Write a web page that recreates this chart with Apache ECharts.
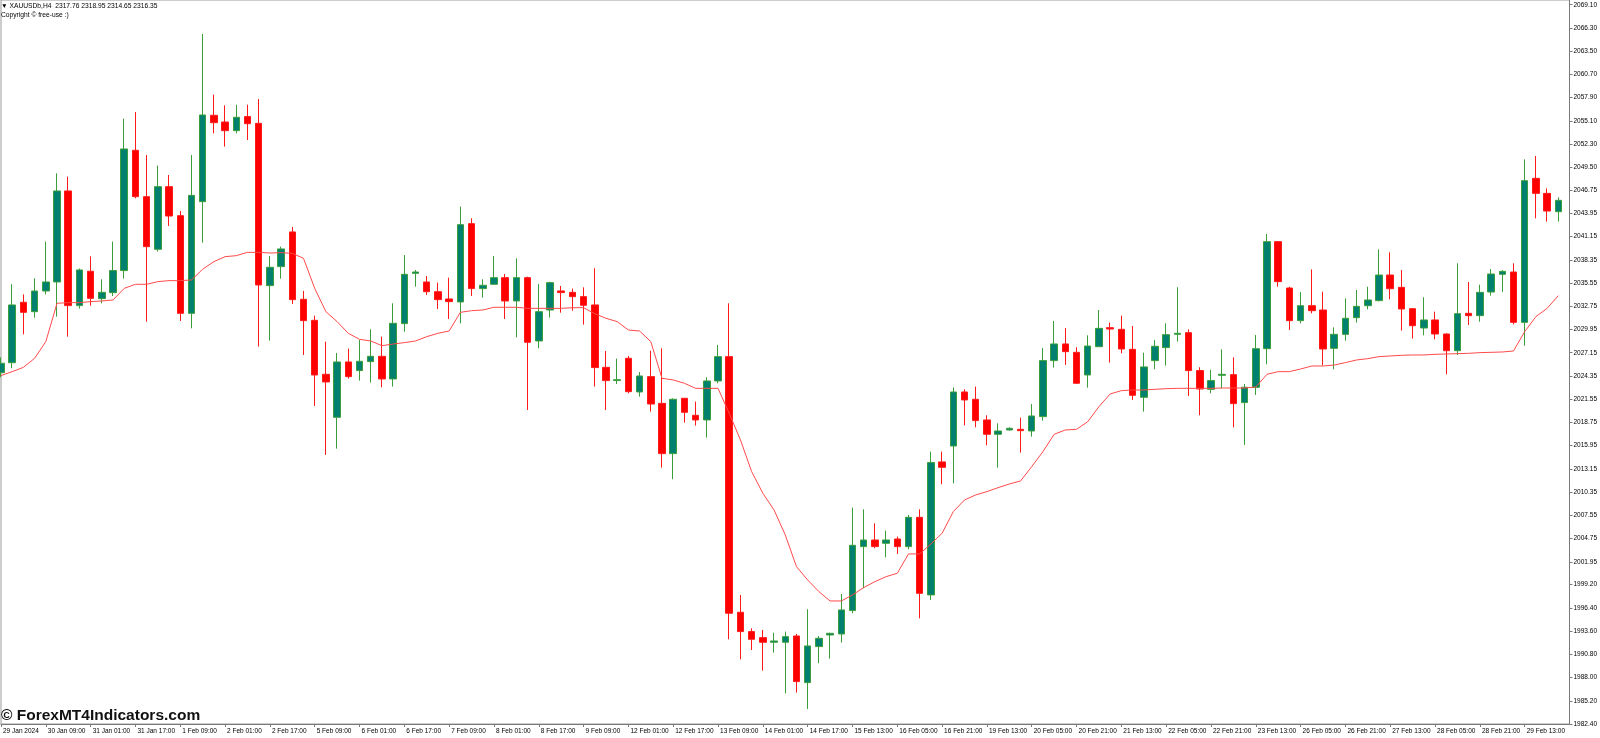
<!DOCTYPE html>
<html>
<head>
<meta charset="utf-8">
<script src="https://cdn.jsdelivr.net/npm/echarts@6/dist/echarts.min.js"></script>
<style>
html,body{margin:0;padding:0;background:#fff;}
#chart{width:1600px;height:738px;}
</style>
</head>
<body>
<div id="chart"></div>
<script>
const categories = [
'29 Jan 17:00','29 Jan 21:00','30 Jan 01:00','30 Jan 05:00','30 Jan 09:00','30 Jan 13:00','30 Jan 17:00','30 Jan 21:00',
'31 Jan 01:00','31 Jan 05:00','31 Jan 09:00','31 Jan 13:00','31 Jan 17:00','31 Jan 21:00',
'1 Feb 01:00','1 Feb 05:00','1 Feb 09:00','1 Feb 13:00','1 Feb 17:00','1 Feb 21:00',
'2 Feb 01:00','2 Feb 05:00','2 Feb 09:00','2 Feb 13:00','2 Feb 17:00','2 Feb 21:00',
'5 Feb 01:00','5 Feb 05:00','5 Feb 09:00','5 Feb 13:00','5 Feb 17:00','5 Feb 21:00',
'6 Feb 01:00','6 Feb 05:00','6 Feb 09:00','6 Feb 13:00','6 Feb 17:00','6 Feb 21:00',
'7 Feb 01:00','7 Feb 05:00','7 Feb 09:00','7 Feb 13:00','7 Feb 17:00','7 Feb 21:00',
'8 Feb 01:00','8 Feb 05:00','8 Feb 09:00','8 Feb 13:00','8 Feb 17:00','8 Feb 21:00',
'9 Feb 01:00','9 Feb 05:00','9 Feb 09:00','9 Feb 13:00','9 Feb 17:00','9 Feb 21:00',
'12 Feb 01:00','12 Feb 05:00','12 Feb 09:00','12 Feb 13:00','12 Feb 17:00','12 Feb 21:00',
'13 Feb 01:00','13 Feb 05:00','13 Feb 09:00','13 Feb 13:00','13 Feb 17:00','13 Feb 21:00',
'14 Feb 01:00','14 Feb 05:00','14 Feb 09:00','14 Feb 13:00','14 Feb 17:00','14 Feb 21:00',
'15 Feb 05:00','15 Feb 09:00','15 Feb 13:00','15 Feb 17:00','15 Feb 21:00',
'16 Feb 01:00','16 Feb 05:00','16 Feb 09:00','16 Feb 13:00','16 Feb 17:00','16 Feb 21:00',
'19 Feb 01:00','19 Feb 05:00','19 Feb 09:00','19 Feb 13:00','19 Feb 17:00','19 Feb 21:00',
'20 Feb 01:00','20 Feb 05:00','20 Feb 09:00','20 Feb 13:00','20 Feb 17:00','20 Feb 21:00',
'21 Feb 01:00','21 Feb 05:00','21 Feb 09:00','21 Feb 13:00','21 Feb 17:00','21 Feb 21:00',
'22 Feb 01:00','22 Feb 05:00','22 Feb 09:00','22 Feb 13:00','22 Feb 17:00','22 Feb 21:00',
'23 Feb 01:00','23 Feb 05:00','23 Feb 09:00','23 Feb 13:00','23 Feb 17:00','23 Feb 21:00',
'26 Feb 01:00','26 Feb 05:00','26 Feb 09:00','26 Feb 13:00','26 Feb 17:00','26 Feb 21:00',
'27 Feb 01:00','27 Feb 05:00','27 Feb 09:00','27 Feb 13:00','27 Feb 17:00','27 Feb 21:00',
'28 Feb 01:00','28 Feb 05:00','28 Feb 09:00','28 Feb 13:00','28 Feb 17:00','28 Feb 21:00',
'29 Feb 01:00','29 Feb 05:00','29 Feb 09:00','29 Feb 13:00','29 Feb 17:00','29 Feb 21:00',
'1 Mar 01:00'
];
const firstLabel = '29 Jan 2024';

const openP = [
2024.75,2025.95,2033.23,2032.10,2034.59,2035.68,2046.65,2032.83,2036.97,2033.67,
2034.39,2037.05,2051.55,2045.96,2039.62,2047.17,2043.67,2031.90,2045.36,2055.77,
2054.96,2053.92,2055.61,2054.80,2035.24,2037.53,2041.71,2033.59,2031.06,2024.55,
2019.37,2026.04,2025.00,2026.08,2026.72,2023.99,2030.66,2036.72,2035.68,2034.51,
2033.63,2033.27,2042.71,2034.88,2035.40,2036.20,2033.39,2036.20,2028.57,2032.30,
2034.60,2034.43,2033.91,2032.91,2025.39,2023.80,2026.48,2022.42,2024.27,2021.05,
2014.99,2021.66,2019.61,2019.05,2023.75,2026.68,1995.87,1993.54,1992.81,1992.25,
1992.25,1993.01,1987.39,1991.73,1993.13,1993.25,1996.07,2003.78,2004.58,2004.18,
2004.70,2003.78,2007.31,1997.96,2013.99,2015.91,2022.42,2021.54,2019.05,2017.32,
2017.84,2017.92,2017.72,2019.45,2026.20,2028.21,2027.20,2024.47,2027.88,2030.17,
2029.97,2027.56,2021.78,2026.20,2027.77,2029.37,2029.57,2025.00,2022.74,2024.43,
2024.51,2021.14,2022.98,2027.64,2040.54,2034.95,2031.02,2032.82,2032.30,2027.68,
2029.37,2031.38,2032.82,2033.43,2036.52,2035.03,2032.46,2030.13,2031.10,2029.41,
2027.40,2031.90,2031.62,2034.47,2036.60,2036.88,2030.81,2048.17,2046.36,2044.15
];
const closeP = [
2025.88,2032.91,2032.02,2034.59,2035.68,2046.65,2032.83,2037.13,2033.71,2034.43,
2037.05,2051.71,2045.96,2039.94,2047.17,2043.63,2031.90,2046.12,2055.81,2054.88,
2053.92,2055.53,2054.76,2035.32,2037.45,2039.66,2033.55,2031.02,2024.47,2023.63,
2026.04,2024.27,2026.12,2026.72,2023.99,2030.70,2036.60,2036.88,2034.51,2033.55,
2033.31,2042.59,2034.88,2035.28,2036.20,2033.39,2036.20,2028.41,2032.10,2035.60,
2034.40,2033.91,2032.87,2025.36,2023.79,2023.90,2022.46,2024.35,2020.97,2014.99,
2021.54,2019.97,2019.05,2023.75,2026.68,1995.75,1993.54,1992.61,1992.25,1992.41,
1992.93,1987.51,1991.81,1992.73,1993.33,1996.15,2003.94,2004.58,2003.78,2004.58,
2003.78,2007.31,1998.15,2013.91,2013.34,2022.42,2021.46,2018.97,2017.32,2017.72,
2018.04,2017.76,2019.53,2026.20,2028.21,2027.28,2023.47,2027.96,2030.09,2030.01,
2027.60,2022.02,2025.44,2027.93,2029.33,2029.49,2025.00,2022.78,2023.79,2024.55,
2021.02,2022.99,2027.64,2040.54,2035.72,2031.02,2032.82,2032.22,2027.60,2029.37,
2031.30,2032.74,2033.51,2036.52,2034.87,2032.42,2030.41,2031.10,2029.41,2027.40,
2031.86,2031.62,2034.43,2036.64,2036.96,2030.81,2047.89,2046.36,2044.23,2045.52
];
const lowP = [
2024.20,2025.28,2029.37,2031.38,2034.19,2031.50,2029.09,2032.47,2032.83,2033.11,
2033.99,2036.08,2045.76,2030.90,2039.34,2042.43,2030.98,2030.09,2040.42,2053.60,
2051.99,2053.60,2052.79,2027.89,2028.61,2036.08,2033.03,2026.88,2020.74,2014.83,
2015.59,2024.03,2023.79,2023.55,2022.99,2023.07,2029.69,2035.12,2034.11,2032.42,
2031.22,2030.70,2033.99,2033.79,2035.32,2031.22,2029.01,2020.25,2027.69,2031.38,
2031.98,2032.22,2030.54,2023.07,2020.25,2023.38,2022.26,2021.86,2020.05,2013.30,
2011.90,2018.72,2018.36,2016.92,2023.47,1992.61,1990.20,1991.32,1988.83,1991.00,
1986.10,1986.18,1984.21,1989.72,1990.28,1992.21,1995.75,1998.76,2003.58,2002.49,
2002.90,2003.46,1995.14,1997.35,2011.30,2011.41,2018.40,2018.16,2016.00,2013.30,
2017.76,2015.11,2017.04,2018.97,2025.36,2025.68,2023.40,2022.94,2027.85,2025.96,
2027.08,2021.46,2020.05,2025.16,2025.60,2028.49,2021.94,2019.61,2022.26,2022.86,
2018.16,2016.03,2022.06,2025.75,2035.11,2029.89,2030.69,2031.90,2025.63,2025.15,
2028.60,2030.78,2032.38,2033.35,2033.59,2029.81,2028.85,2029.25,2028.77,2024.55,
2026.88,2030.49,2030.89,2034.03,2034.47,2030.57,2028.00,2043.35,2042.95,2042.95
];
const highP = [
2026.60,2035.40,2034.19,2036.12,2040.54,2048.78,2048.37,2037.30,2038.77,2036.00,
2040.54,2055.36,2056.17,2050.98,2049.70,2048.57,2044.24,2050.98,2065.57,2058.26,
2056.97,2057.05,2057.05,2057.73,2038.81,2039.94,2042.31,2034.60,2031.62,2028.49,
2027.12,2027.65,2028.69,2029.97,2029.09,2033.11,2038.93,2037.13,2036.40,2035.60,
2036.20,2044.76,2043.35,2036.00,2038.81,2036.64,2038.53,2036.32,2035.44,2035.70,
2035.20,2034.88,2035.03,2037.33,2027.36,2026.44,2026.76,2024.83,2027.40,2027.68,
2021.66,2021.70,2021.26,2024.19,2028.09,2033.11,1997.95,1993.94,1993.74,1993.41,
1993.54,1993.25,1996.23,1993.01,1993.41,1998.07,2008.48,2008.28,2006.59,2005.71,
2004.99,2007.60,2008.28,2015.23,2015.23,2022.98,2022.74,2023.07,2019.61,2018.64,
2018.16,2019.33,2020.98,2027.72,2030.98,2030.14,2027.81,2029.25,2032.30,2030.78,
2031.62,2030.38,2027.16,2028.69,2030.70,2035.04,2029.97,2025.40,2025.08,2027.56,
2026.60,2023.39,2029.29,2041.46,2040.60,2035.11,2034.47,2037.20,2034.51,2030.21,
2033.71,2034.71,2035.11,2039.61,2039.25,2037.12,2032.50,2033.83,2032.10,2029.49,
2037.93,2035.68,2035.35,2037.24,2037.12,2037.93,2050.46,2050.86,2046.96,2045.88
];
const maValues = [
2024.40,2024.87,2025.39,2026.48,2028.49,2033.11,2033.19,2033.19,2033.31,2033.39,
2033.51,2034.91,2035.40,2035.40,2035.72,2035.84,2035.84,2035.92,2037.21,2038.13,
2038.73,2038.85,2039.25,2039.25,2039.17,2039.21,2039.13,2038.53,2034.91,2032.10,
2030.90,2029.49,2028.77,2028.57,2028.00,2028.20,2028.37,2028.57,2029.09,2029.49,
2029.77,2032.02,2032.22,2032.30,2032.63,2032.63,2032.63,2032.50,2032.50,2032.50,
2032.50,2032.58,2032.58,2031.86,2031.30,2030.90,2029.89,2029.77,2028.49,2024.07,
2023.87,2023.47,2022.86,2022.86,2022.86,2019.85,2016.64,2012.82,2010.21,2008.20,
2005.19,2001.37,1999.76,1998.36,1997.23,1997.23,1997.95,1998.84,1999.56,2000.16,
2000.57,2002.90,2002.90,2004.10,2005.39,2008.00,2009.40,2010.01,2010.41,2010.89,
2011.33,2011.69,2013.42,2015.23,2017.32,2017.84,2017.92,2018.84,2020.65,2022.18,
2022.58,2022.66,2022.66,2022.74,2022.82,2022.86,2022.86,2022.86,2022.86,2022.90,
2022.90,2022.90,2023.02,2024.55,2024.87,2024.87,2025.19,2025.55,2025.55,2025.67,
2025.96,2026.28,2026.44,2026.68,2026.76,2026.84,2026.88,2026.88,2026.96,2027.00,
2027.04,2027.08,2027.16,2027.20,2027.24,2027.36,2029.69,2031.50,2032.50,2034.03
];
const yTickLabels = [
'1982.40','1985.20','1988.00','1990.80','1993.60','1996.40','1999.20','2001.95',
'2004.75','2007.55','2010.35','2013.15','2015.95','2018.75','2021.55','2024.35',
'2027.15','2029.95','2032.75','2035.55','2038.35','2041.15','2043.95','2046.75',
'2049.50','2052.30','2055.10','2057.90','2060.70','2063.50','2066.30','2069.10'
];
const titleText = '\u25BC XAUUSDb,H4  2317.76 2318.95 2314.65 2316.35';
const subText = 'Copyright \u00A9 free-use :)';
const watermark = '\u00A9 ForexMT4Indicators.com';

const yTickValues = yTickLabels.map(Number);
const candleData = openP.map((o, i) => [o, closeP[i], lowP[i], highP[i]]);
const showLabel = (index) => index % 4 === 0 && index <= 136;
const FONT = '"Liberation Sans", Arial, sans-serif';

const chart = echarts.init(document.getElementById('chart'), null, {renderer: 'canvas'});
chart.setOption({
  animation: false,
  backgroundColor: '#ffffff',
  title: {
    text: titleText,
    subtext: subText,
    left: 1,
    top: 3,
    itemGap: 2,
    padding: 0,
    textStyle: {fontSize: 6.7, fontWeight: 'normal', color: '#000', fontFamily: FONT},
    subtextStyle: {fontSize: 6.7, color: '#000', fontFamily: FONT}
  },
  graphic: [{
    type: 'text',
    left: 1,
    top: 708,
    z: 100,
    style: {text: watermark, font: 'bold 15.5px "Liberation Sans", Arial, sans-serif', fill: '#111'}
  }],
  grid: {
    left: -1.95,
    right: 28,
    top: 0,
    bottom: 14,
    show: true,
    borderColor: '#9a9a9a',
    borderWidth: 1,
    backgroundColor: '#fff'
  },
  xAxis: {
    type: 'category',
    data: categories.concat(['']),
    boundaryGap: false,
    axisLine: {lineStyle: {color: '#7a7a7a', width: 1}},
    axisTick: {show: true, interval: showLabel, length: 3, lineStyle: {color: '#7a7a7a'}},
    axisLabel: {
      interval: showLabel,
      formatter: (v, i) => (i === 0 ? firstLabel : v),
      align: 'left',
      margin: 4,
      padding: [0, 0, 0, 2],
      fontSize: 6.5,
      color: '#000',
      fontFamily: FONT
    },
    splitLine: {show: false}
  },
  yAxis: {
    type: 'value',
    position: 'right',
    min: 1982.40,
    max: 2069.667,
    axisLine: {show: true, lineStyle: {color: '#7a7a7a', width: 1}},
    axisTick: {show: true, length: 3, customValues: yTickValues, lineStyle: {color: '#7a7a7a'}},
    axisLabel: {
      customValues: yTickValues,
      formatter: (v) => Number(v).toFixed(2),
      margin: 4,
      fontSize: 6.5,
      color: '#000',
      fontFamily: FONT
    },
    splitLine: {show: false}
  },
  series: [
    {
      type: 'candlestick',
      data: candleData,
      barWidth: 7,
      z: 2,
      itemStyle: {
        color: '#00806f',
        color0: '#ff0000',
        borderColor: '#3a9e3a',
        borderColor0: '#ff1a1a',
        borderWidth: 1
      }
    },
    {
      type: 'line',
      data: maValues,
      showSymbol: false,
      symbol: 'none',
      z: 3,
      lineStyle: {color: '#ff4a4a', width: 1}
    }
  ]
});
</script>
</body>
</html>
